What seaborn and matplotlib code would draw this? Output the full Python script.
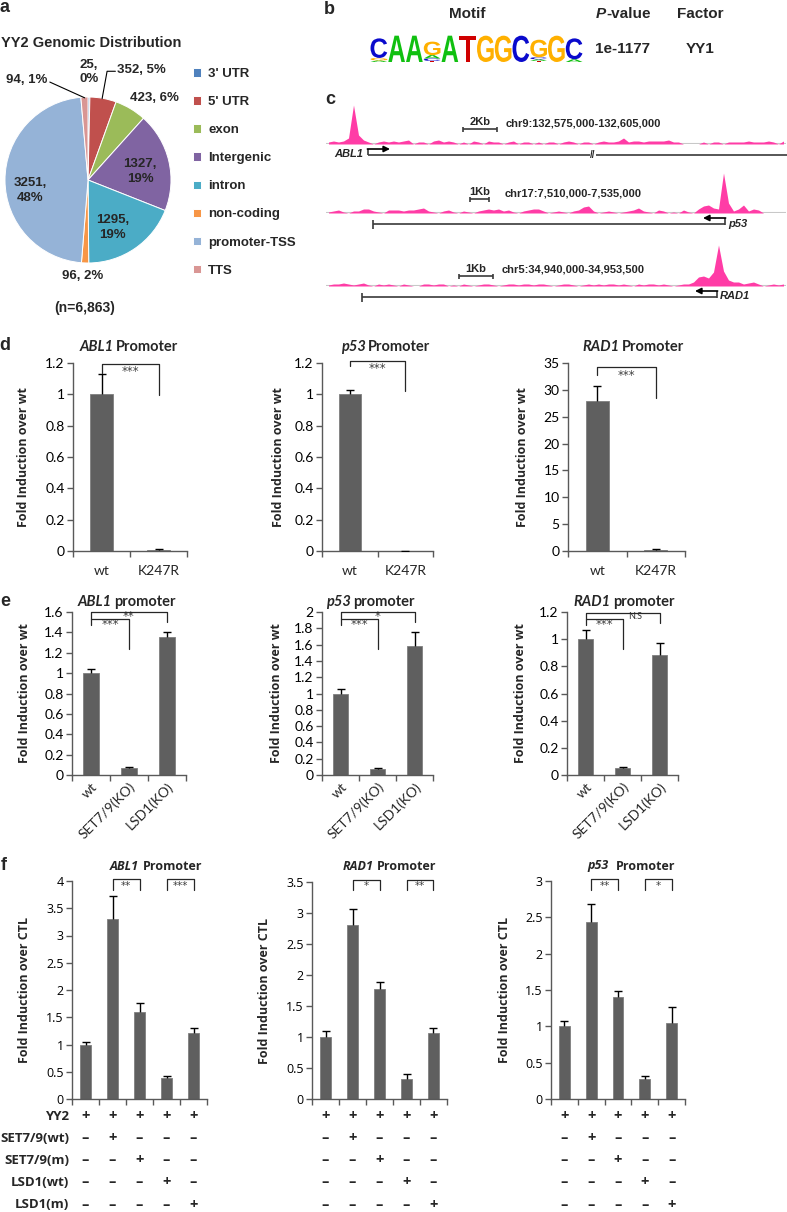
import numpy as np
import pandas as pd
import matplotlib
matplotlib.use("Agg")
import matplotlib.pyplot as plt
import matplotlib.transforms as mtransforms
from matplotlib.textpath import TextPath
from matplotlib.font_manager import FontProperties
from matplotlib.patches import PathPatch
import seaborn as sns

# ---------------- data ----------------
# a: YY2 genomic distribution
pie_names = ["3' UTR", "5' UTR", "exon", "Intergenic", "intron", "non-coding", "promoter-TSS", "TTS"]
pie_counts = [25, 352, 423, 1327, 1295, 96, 3251, 94]
pie_pcts = [0, 5, 6, 19, 19, 2, 48, 1]
pie_colors = ["#4f81bd", "#c0504d", "#9bbb59", "#8064a2", "#4bacc6", "#f79646", "#95b3d7", "#d99694"]
pie_wrap = [True, False, False, True, True, False, True, False]

# b: motif, letters stacked bottom -> top with heights in bits
motif = [
    [("A", 0.12), ("G", 0.18), ("C", 1.45)],
    [("A", 1.95)],
    [("A", 1.95)],
    [("T", 0.08), ("C", 0.18), ("A", 0.25), ("G", 1.0)],
    [("A", 1.95)],
    [("T", 1.95)],
    [("G", 1.95)],
    [("G", 1.95)],
    [("C", 1.95)],
    [("T", 0.08), ("A", 0.12), ("C", 0.15), ("G", 1.3)],
    [("G", 1.95)],
    [("A", 0.2), ("C", 1.55)],
]
motif_pvalue = "1e-1177"
motif_factor = "YY1"

# c: ChIP-seq coverage (binned across the window)
track_abl1 = [2, 3, 2, 3, 6, 39, 9, 4, 2, 0, 2, 3, 2, 3, 2, 3, 4, 0, 2, 2, 0, 3, 4, 2, 3, 2, 0, 2, 0, 3,
              2, 0, 3, 2, 2, 0, 2, 3, 0, 2, 2, 0, 2, 0, 2, 2, 0, 2, 3, 2, 0, 2, 2, 0, 2, 3, 2, 2, 3, 6,
              2, 3, 3, 2, 3, 3, 3, 3, 4, 2, 2, 0, 0, 0, 0, 2, 0, 2, 2, 0, 2, 2, 2, 2, 3, 2, 2, 2, 3, 2,
              0, 3]
track_p53 = [1, 2, 3, 1, 0, 2, 2, 4, 4, 2, 1, 0, 3, 3, 3, 2, 3, 3, 4, 5, 2, 1, 0, 2, 3, 1, 0, 2, 1, 0,
             2, 3, 4, 3, 4, 2, 3, 1, 0, 2, 3, 4, 4, 2, 0, 1, 2, 1, 0, 2, 3, 6, 7, 2, 0, 1, 2, 1, 0, 1,
             2, 3, 5, 2, 1, 0, 3, 2, 0, 1, 0, 3, 1, 0, 4, 7, 8, 5, 4, 40, 10, 2, 4, 8, 2, 4, 3, 0, 0, 0,
             0, 0]
track_rad1 = [1, 2, 2, 3, 2, 1, 2, 3, 1, 0, 2, 1, 2, 1, 0, 2, 1, 0, 0, 2, 2, 1, 2, 2, 0, 1, 0, 2, 1, 0,
              1, 2, 2, 1, 0, 1, 2, 2, 1, 2, 2, 1, 2, 2, 1, 0, 1, 2, 2, 1, 0, 1, 2, 1, 2, 1, 2, 2, 1, 2,
              1, 0, 2, 1, 2, 2, 1, 2, 1, 0, 1, 2, 2, 4, 9, 10, 8, 14, 41, 15, 6, 4, 4, 2, 3, 4, 2, 0, 1, 2,
              1, 2]
track_regions = ["chr9:132,575,000-132,605,000", "chr17:7,510,000-7,535,000", "chr5:34,940,000-34,953,500"]
track_scales = ["2Kb", "1Kb", "1Kb"]

# d: luciferase, wt vs K247R
d_genes = ["ABL1", "p53", "RAD1"]
d_cats = ["wt", "K247R"]
d_vals = [[1.0, 0.006], [1.0, 0.002], [28.0, 0.25]]
d_errs = [[0.13, 0.007], [0.03, 0.0], [2.8, 0.19]]
d_ymax = [1.2, 1.2, 35]
d_ystep = [0.2, 0.2, 5]

# e: knock-out cells
e_genes = ["ABL1", "p53", "RAD1"]
e_cats = ["wt", "SET7/9(KO)", "LSD1(KO)"]
e_vals = [[1.0, 0.065, 1.35], [1.0, 0.073, 1.58], [1.0, 0.05, 0.88]]
e_errs = [[0.04, 0.01, 0.05], [0.05, 0.013, 0.18], [0.07, 0.01, 0.09]]
e_ymax = [1.6, 2.0, 1.2]
e_ystep = [0.2, 0.2, 0.2]

# f: overexpression
f_genes = ["ABL1", "RAD1", "p53"]
f_vals = [[1.0, 3.3, 1.6, 0.38, 1.22], [1.0, 2.8, 1.78, 0.32, 1.06], [1.0, 2.43, 1.41, 0.27, 1.04]]
f_errs = [[0.04, 0.42, 0.17, 0.04, 0.09], [0.1, 0.27, 0.11, 0.08, 0.09], [0.08, 0.26, 0.08, 0.04, 0.22]]
f_ymax = [4, 3.5, 3]
f_ystep = [0.5, 0.5, 0.5]
f_rows = ["YY2", "SET7/9(wt)", "SET7/9(m)", "LSD1(wt)", "LSD1(m)"]
f_design = [[1, 1, 1, 1, 1], [0, 1, 0, 0, 0], [0, 0, 1, 0, 0], [0, 0, 0, 1, 0], [0, 0, 0, 0, 1]]

# significance brackets: (x1, x2, top, leg1, leg2, text, text_x, text_y)
d_brackets = [[(0, 1, 1.194, 1.136, 0.997, "***", 0.5, 1.145)],
              [(0, 1, 1.212, 1.184, 1.019, "***", 0.5, 1.165)],
              [(0, 1, 34.2, 32.8, 28.5, "***", 0.5, 32.7)]]
e_brackets = [[(0, 2, 1.60, 1.536, 1.503, "**", 1.0, 1.56), (0, 1, 1.536, 1.47, 1.24, "***", 0.5, 1.475)],
              [(0, 2, 2.0, 1.918, 1.878, "*", 1.0, 1.95), (0, 1, 1.918, 1.837, 1.551, "***", 0.5, 1.845)],
              [(0, 2, 1.196, 1.152, 1.12, "N.S", 1.34, 1.17), (0, 1, 1.152, 1.103, 0.924, "***", 0.5, 1.105)]]
f_brackets = [[(1, 2, 4.04, 3.84, 3.84, "**", 1.5, 3.91), (3, 4, 4.04, 3.84, 3.84, "***", 3.5, 3.91)],
              [(1, 2, 3.54, 3.37, 3.37, "*", 1.5, 3.43), (3, 4, 3.54, 3.37, 3.37, "**", 3.5, 3.43)],
              [(1, 2, 3.03, 2.87, 2.87, "**", 1.5, 2.93), (3, 4, 3.03, 2.87, 2.87, "*", 3.5, 2.93)]]

# ---------------- style ----------------
sns.set_theme(style="ticks")
NARROW = ["Liberation Sans Narrow", "Lato", "DejaVu Sans"]
ARIAL = ["Liberation Sans", "DejaVu Sans"]
OPEN = ["Open Sans", "DejaVu Sans"]
plt.rcParams["font.family"] = ARIAL
BAR = "#5f5f5f"
AXC = "#595959"
PINK = "#ff3ca6"
LINE = "#3a3a3a"
LOGO_COLORS = {"A": "#10c010", "C": "#0a0acc", "G": "#ffb000", "T": "#d00000"}

W, H = 787, 1212
fig = plt.figure(figsize=(W / 100, H / 100), dpi=100)


def px_ax(x0, y0, x1, y1):
    return fig.add_axes([x0 / W, 1 - y1 / H, (x1 - x0) / W, (y1 - y0) / H])


ov = px_ax(0, 0, W, H)
ov.set_xlim(0, W)
ov.set_ylim(H, 0)
ov.axis("off")
ov.set_zorder(5)

for lab, x, y in [("a", 5, 8), ("b", 329, 9), ("c", 330, 99), ("d", 5, 345), ("e", 5, 602), ("f", 4, 866)]:
    ov.text(x, y, lab, fontsize=13, fontweight="bold", ha="center", va="center")

# ---------------- a: pie ----------------
ov.text(1, 43, "YY2 Genomic Distribution", fontsize=10.5, fontweight="bold", ha="left", va="center")
ax_pie = px_ax(5, 97, 171, 263)
wedges, _ = ax_pie.pie(pie_counts, colors=pie_colors, startangle=90, counterclock=False,
                       wedgeprops=dict(edgecolor="white", linewidth=0.7))
ax_pie.set_xlim(-1, 1)
ax_pie.set_ylim(-1, 1)
pie_label_xy = [(0.01, 1.30), (0.64, 1.325), (0.80, 0.99), (0.63, 0.10),
                (0.30, -0.57), (-0.06, -1.157), (-0.70, -0.13), (-0.735, 1.205)]
for c, p, wrap, (lx, ly) in zip(pie_counts, pie_pcts, pie_wrap, pie_label_xy):
    txt = f"{c},\n{p}%" if wrap else f"{c}, {p}%"
    ax_pie.text(lx, ly, txt, ha="center", va="center", fontsize=9.5, fontweight="bold",
                linespacing=1.3, clip_on=False)
ax_pie.plot([-0.46, -0.04], [1.18, 0.99], color="black", lw=0.8, clip_on=False)
ax_pie.plot([0.17, 0.23, 0.33], [0.98, 1.31, 1.31], color="black", lw=0.8, clip_on=False)
ax_pie.legend(wedges, pie_names, loc="upper left", bbox_to_anchor=(193 / W, 1 - 68 / H),
              bbox_transform=fig.transFigure, frameon=False, handlelength=0.6, handleheight=0.6,
              handletextpad=0.55, labelspacing=1.22, borderpad=0, borderaxespad=0,
              prop=FontProperties(family=ARIAL, weight="bold", size=9.5))
ov.text(85, 308, "(n=6,863)", fontsize=10, fontweight="bold", ha="center", va="center")

# ---------------- b: motif ----------------
ov.text(467, 14, "Motif", fontsize=11, fontweight="bold", ha="center", va="center")
ov.text(596, 14, "P", fontsize=11, fontweight="bold", style="italic", ha="left", va="center")
ov.text(606, 14, "-value", fontsize=11, fontweight="bold", ha="left", va="center")
ov.text(700, 14, "Factor", fontsize=11, fontweight="bold", ha="center", va="center")
ov.text(622, 49, motif_pvalue, fontsize=11, fontweight="bold", ha="center", va="center")
ov.text(700, 49, motif_factor, fontsize=11, fontweight="bold", ha="center", va="center")

ax_logo = px_ax(370, 35, 583, 62)
LOGO_FP = FontProperties(family=ARIAL, weight="bold")
for i, col in enumerate(motif):
    base = 0.0
    for ch, h in col:
        tp = TextPath((0, 0), ch, size=1, prop=LOGO_FP)
        bb = tp.get_extents()
        tr = (mtransforms.Affine2D().translate(-bb.x0, -bb.y0)
              .scale(0.94 / bb.width, h / bb.height).translate(i + 0.03, base))
        ax_logo.add_patch(PathPatch(tr.transform_path(tp), fc=LOGO_COLORS[ch], ec="none"))
        base += h
ax_logo.set_xlim(0, len(motif))
ax_logo.set_ylim(0, 2.0)
ax_logo.axis("off")

# ---------------- c: tracks ----------------
track_boxes = [(326, 99, 786, 144), (326, 168, 786, 213), (326, 241, 786, 286)]
for heights, box in zip([track_abl1, track_p53, track_rad1], track_boxes):
    ax_t = px_ax(*box)
    df_t = pd.DataFrame({"pos": np.arange(len(heights)), "cov": heights})
    ax_t.axhline(0, color="#c8c8c8", lw=1.5, zorder=1)
    sns.histplot(data=df_t, x="pos", weights="cov", discrete=True, element="poly", color=PINK,
                 alpha=1, linewidth=0, ax=ax_t, zorder=2)
    ax_t.set_xlim(-0.5, len(heights) - 0.5)
    ax_t.set_ylim(0, 45)
    ax_t.axis("off")

# schematic gene models, scale bars, coordinates (pixel layout)
kw = dict(color=LINE, lw=1.2, solid_capstyle="butt")
arr = dict(arrowstyle="-|>", color="black", lw=1.2, mutation_scale=9, shrinkA=0, shrinkB=0)
# ABL1
ov.plot([368, 787], [155, 155], **kw)
ov.plot([368, 368], [155, 149], **kw)
ov.annotate("", xy=(390, 149), xytext=(367.4, 149), arrowprops=arr)
ov.text(363, 154, "ABL1", fontsize=8, fontweight="bold", style="italic", ha="right", va="center")
ov.text(593, 155, "//", fontsize=7, fontweight="bold", ha="center", va="center",
        bbox=dict(fc="white", ec="none", pad=0.3))
# p53
ov.plot([373, 725], [224, 224], **kw)
ov.plot([373, 373], [219.5, 228.5], **kw)
ov.plot([725, 725], [224.6, 218], **kw)
ov.annotate("", xy=(703, 218), xytext=(725.6, 218), arrowprops=arr)
ov.text(728, 224, "p53", fontsize=8, fontweight="bold", style="italic", ha="left", va="center")
# RAD1
ov.plot([362, 717], [297, 297], **kw)
ov.plot([362, 362], [292.5, 301.5], **kw)
ov.plot([717, 717], [297.6, 291], **kw)
ov.annotate("", xy=(695, 291), xytext=(717.6, 291), arrowprops=arr)
ov.text(720, 296, "RAD1", fontsize=8, fontweight="bold", style="italic", ha="left", va="center")

scale_bars = [(463, 497, 129), (470, 489, 199), (459, 493, 276)]
region_x = [506, 505, 502]
for (x0, x1, yb), sc, reg, rx in zip(scale_bars, track_scales, track_regions, region_x):
    ov.plot([x0, x1], [yb, yb], **kw)
    ov.plot([x0, x0], [yb - 2.5, yb + 2.5], **kw)
    ov.plot([x1, x1], [yb - 2.5, yb + 2.5], **kw)
    ov.text((x0 + x1) / 2, yb - 2, sc, fontsize=8, fontweight="bold", ha="center", va="bottom")
    ov.text(rx, yb - 6, reg, fontsize=8, fontweight="bold", ha="left", va="center")


# ---------------- bar panels ----------------
def bar_panel(box, cats, vals, errs, ymax, ystep, tick_family, tick_size):
    ax = px_ax(*box)
    df = pd.DataFrame({"cond": cats, "val": vals})
    sns.barplot(data=df, x="cond", y="val", order=cats, color=BAR, saturation=1, width=0.4,
                edgecolor="#7f7f7f", linewidth=0.6, errorbar=None, ax=ax)
    x = np.arange(len(cats))
    v = np.asarray(vals, float)
    e = np.asarray(errs, float)
    ax.vlines(x, v, v + e, color="black", lw=1, zorder=3)
    ax.scatter(x, v + e, marker="_", s=32, color="black", linewidths=1, zorder=3)
    ax.set_xlim(-0.5, len(cats) - 0.5)
    ax.set_ylim(0, ymax)
    ticks = np.round(np.arange(0, ymax + ystep / 2, ystep), 3)
    ax.set_yticks(ticks)
    ax.set_yticklabels([f"{t:g}" for t in ticks], family=tick_family, fontsize=tick_size, color="black")
    ax.set_xticks(x)
    ax.set_xticks(np.arange(-0.5, len(cats)), minor=True)
    ax.tick_params(axis="x", which="major", length=0)
    ax.tick_params(axis="x", which="minor", length=4, width=1, direction="out", color=AXC)
    ax.tick_params(axis="y", length=4, width=1, direction="out", color=AXC, pad=2)
    sns.despine(ax=ax)
    for s in ("left", "bottom"):
        ax.spines[s].set_color(AXC)
        ax.spines[s].set_linewidth(1)
    ax.set_xlabel("")
    ax.set_ylabel("")
    return ax


def set_ylab(ax, box, text, cx, size):
    ax.set_ylabel(text, fontsize=size, fontweight="bold", family=OPEN)
    ax.yaxis.set_label_coords((cx - box[0]) / (box[2] - box[0]), 0.5)
    ax.yaxis.label.set_va("center")


def brackets(ax, specs, size):
    for x1, x2, top, l1, l2, txt, tx, ty in specs:
        ax.plot([x1, x1, x2, x2], [l1, top, top, l2], color="#262626", lw=0.9, clip_on=False, zorder=4)
        if txt == "N.S":
            ax.text(tx, ty, txt, ha="center", va="center", fontsize=6.5, color="#303030",
                    family=NARROW, clip_on=False)
        else:
            ax.text(tx, ty, txt, ha="center", va="center", fontsize=size, color="#404040",
                    family="DejaVu Sans", clip_on=False)


def title(split, y, gene, word, size, family, gap=2):
    ov.text(split, y, gene, fontsize=size, fontweight="bold", style="italic", family=family,
            ha="right", va="center")
    ov.text(split + gap, y, word, fontsize=size, fontweight="bold", family=family, ha="left", va="center")


# d
d_boxes = [(73, 363, 187, 551), (322, 363, 433, 551), (568, 363, 685, 551)]
d_ylab_x = [24, 278, 523]
d_split = [114, 366, 620]
for i in range(3):
    ax = bar_panel(d_boxes[i], d_cats, d_vals[i], d_errs[i], d_ymax[i], d_ystep[i], NARROW, 10)
    ax.set_xticklabels(d_cats, family=NARROW, fontsize=10)
    ax.tick_params(axis="x", which="major", pad=10)
    set_ylab(ax, d_boxes[i], "Fold Induction over wt", d_ylab_x[i], 9)
    brackets(ax, d_brackets[i], 8.5)
    title(d_split[i], 347, d_genes[i], "Promoter", 10.5, NARROW)

# e
e_boxes = [(72, 612, 186, 775), (322, 612, 433, 775), (567, 612, 678, 775)]
e_ylab_x = [24, 276, 520]
e_split = [112, 351, 611]
for i in range(3):
    ax = bar_panel(e_boxes[i], e_cats, e_vals[i], e_errs[i], e_ymax[i], e_ystep[i], NARROW, 10)
    ax.set_xticklabels(e_cats, family=NARROW, fontsize=10, rotation=45, ha="right", rotation_mode="anchor")
    ax.tick_params(axis="x", which="major", pad=4)
    set_ylab(ax, e_boxes[i], "Fold Induction over wt", e_ylab_x[i], 9)
    brackets(ax, e_brackets[i], 8.5)
    title(e_split[i], 602, e_genes[i], "promoter", 10.5, NARROW)

# f
f_boxes = [(72, 881, 207, 1099), (312, 882, 447, 1099), (551, 881, 685, 1099)]
f_ylab_x = [25, 265, 505]
f_split = [139, 374, 609]
f_gap = [4, 3, 7]
row_y = [1116, 1138, 1160, 1182, 1205]
for i in range(3):
    cats = [str(k + 1) for k in range(5)]
    ax = bar_panel(f_boxes[i], cats, f_vals[i], f_errs[i], f_ymax[i], f_ystep[i], OPEN, 9)
    ax.set_xticklabels([""] * 5)
    set_ylab(ax, f_boxes[i], "Fold Induction over CTL", f_ylab_x[i], 9)
    brackets(ax, f_brackets[i], 7.5)
    title(f_split[i], 866, f_genes[i], "Promoter", 9, OPEN, gap=f_gap[i])
    trans = mtransforms.blended_transform_factory(ax.transData, ov.transData)
    for r, yy in enumerate(row_y):
        for k in range(5):
            ov.text(k, yy, "+" if f_design[r][k] else "\u2013", transform=trans, ha="center", va="center",
                    fontsize=10.5, fontweight="bold", family=OPEN)

for r, yy in enumerate(row_y):
    ov.text(69, yy, f_rows[r], fontsize=9.5, fontweight="bold", family=OPEN, ha="right", va="center")

fig.savefig("out.png", dpi=100)
